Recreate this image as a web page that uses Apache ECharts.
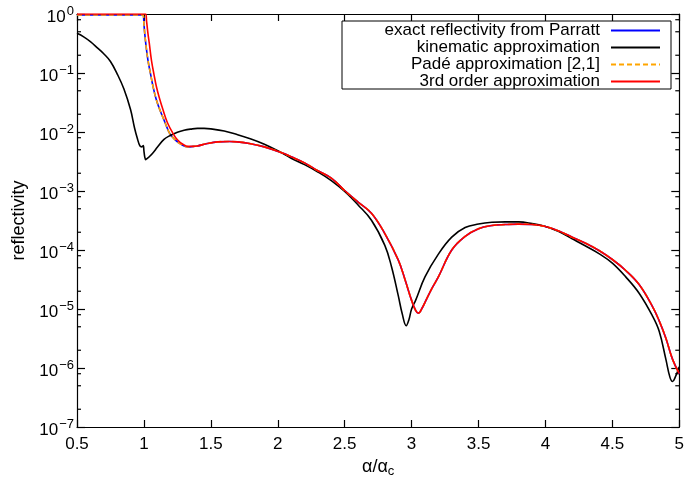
<!DOCTYPE html>
<html>
<head>
<meta charset="utf-8">
<script src="https://cdn.jsdelivr.net/npm/echarts@6/dist/echarts.min.js"></script>
<style>html,body{margin:0;padding:0;background:#fff;}#c{width:687px;height:486px;}</style>
</head>
<body>
<div id="c"></div>
<script>
// ---- data ----
var seriesNames = ['exact reflectivity from Parratt', 'kinematic approximation', 'Padé approximation [2,1]', '3rd order approximation'];
var xTicks = [0.5, 1, 1.5, 2, 2.5, 3, 3.5, 4, 4.5, 5];
var yTickExps = [-7, -6, -5, -4, -3, -2, -1, 0];
var minorFactors = [2, 5, 8];

var exactX = [0.5,0.6,0.7,0.8,0.9,0.993,1.0,1.006,1.015,1.03,1.05,1.068,1.09,1.118,1.15,1.192,1.23,1.266,1.3,1.33,1.37,1.4,1.465,1.55,1.64,1.7,1.787,1.9,2.035,2.1,2.2,2.3,2.4,2.5,2.6,2.7,2.8,2.9,2.95,3.0,3.03,3.05,3.08,3.1,3.15,3.2,3.3,3.4,3.5,3.6,3.7,3.8,3.9,4.0,4.1,4.2,4.3,4.4,4.5,4.6,4.7,4.8,4.85,4.9,4.95,5.0];
var exactY = [0.96,0.96,0.96,0.96,0.96,0.96,0.68,0.47,0.30,0.166,0.095,0.059,0.037,0.024,0.016,0.0095,0.0075,0.0064,0.0058,0.0056,0.0057,0.0058,0.0063,0.0068,0.0069,0.0068,0.0064,0.0056,0.0044,0.0038,0.0030,0.0022,0.00165,0.00102,0.00065,0.00042,0.00019,0.000068,0.000032,0.000014,0.0000095,0.0000085,0.0000105,0.000013,0.000022,0.000035,0.0001,0.00017,0.00023,0.00026,0.00027,0.000275,0.00027,0.00025,0.00021,0.000165,0.00013,0.000098,0.000069,0.000045,0.000026,0.000011,0.0000063,0.0000032,0.0000014,0.0000008];

var kinX = [0.5,0.55,0.6,0.65,0.7,0.75,0.8,0.85,0.9,0.93,0.95,0.97,0.985,0.995,1.0,1.006,1.013,1.02,1.04,1.07,1.1,1.15,1.2,1.25,1.3,1.35,1.4,1.45,1.5,1.6,1.7,1.8,1.9,2.0,2.1,2.2,2.3,2.4,2.5,2.6,2.7,2.8,2.85,2.9,2.93,2.96,2.98,3.0,3.03,3.1,3.2,3.3,3.4,3.5,3.6,3.7,3.8,3.9,4.0,4.1,4.2,4.3,4.4,4.5,4.6,4.7,4.8,4.85,4.9,4.93,4.95,4.97,5.0];
var kinY = [0.47,0.41,0.34,0.27,0.212,0.157,0.097,0.054,0.024,0.0117,0.0079,0.0058,0.0056,0.0059,0.0048,0.0038,0.0034,0.0035,0.0038,0.0045,0.0055,0.0075,0.0088,0.0099,0.0107,0.0112,0.0115,0.0115,0.0113,0.0104,0.0090,0.0076,0.0062,0.0048,0.0036,0.0028,0.0021,0.0015,0.00098,0.00058,0.00032,0.00012,0.000052,0.000017,0.0000083,0.0000052,0.0000066,0.00001,0.000014,0.000035,0.000085,0.000165,0.00024,0.000275,0.000295,0.0003,0.0003,0.00028,0.00025,0.000205,0.000155,0.000117,0.000087,0.00006,0.000035,0.0000185,0.0000076,0.0000042,0.0000014,0.0000007,0.00000059,0.0000007,0.00000105];

var padeX = [0.5,0.6,0.7,0.8,0.9,0.993,1.0,1.006,1.015,1.03,1.05,1.068,1.09,1.118,1.15,1.192,1.23,1.266,1.3,1.33,1.37,1.4,1.465,1.55,1.64,1.7,1.787,1.9,2.035,2.1,2.2,2.3,2.4,2.5,2.6,2.7,2.8,2.9,2.95,3.0,3.03,3.05,3.08,3.1,3.15,3.2,3.3,3.4,3.5,3.6,3.7,3.8,3.9,4.0,4.1,4.2,4.3,4.4,4.5,4.6,4.7,4.8,4.85,4.9,4.95,5.0];
var padeY = [0.96,0.96,0.96,0.96,0.96,0.96,0.68,0.47,0.30,0.166,0.095,0.059,0.037,0.024,0.016,0.0095,0.0075,0.0064,0.0058,0.0056,0.0057,0.0058,0.0063,0.0068,0.0069,0.0068,0.0064,0.0056,0.0044,0.0038,0.0030,0.0022,0.00165,0.00102,0.00065,0.00042,0.00019,0.000068,0.000032,0.000014,0.0000095,0.0000085,0.0000105,0.000013,0.000022,0.000035,0.0001,0.00017,0.00023,0.00026,0.00027,0.000275,0.00027,0.00025,0.00021,0.000165,0.00013,0.000098,0.000069,0.000045,0.000026,0.000011,0.0000063,0.0000032,0.0000014,0.0000008];

var thirdX = [0.5,0.6,0.7,0.8,0.9,1.0,1.013,1.02,1.03,1.04,1.056,1.075,1.093,1.115,1.142,1.175,1.217,1.25,1.291,1.33,1.37,1.4,1.465,1.55,1.64,1.7,1.787,1.9,2.035,2.1,2.2,2.3,2.4,2.5,2.6,2.7,2.8,2.9,2.95,3.0,3.03,3.05,3.08,3.1,3.15,3.2,3.3,3.4,3.5,3.6,3.7,3.8,3.9,4.0,4.1,4.2,4.3,4.4,4.5,4.6,4.7,4.8,4.85,4.9,4.95,5.0];
var thirdY = [1,1,1,1,1,1,1,0.75,0.47,0.32,0.166,0.095,0.059,0.038,0.024,0.0145,0.0095,0.0074,0.0062,0.0057,0.0057,0.0058,0.0063,0.0068,0.0069,0.0068,0.0064,0.0056,0.0044,0.0038,0.0030,0.0022,0.00165,0.00102,0.00065,0.00042,0.00019,0.000068,0.000032,0.000014,0.0000095,0.0000085,0.0000105,0.000013,0.000022,0.000035,0.0001,0.00017,0.00023,0.00026,0.00027,0.000275,0.00027,0.00025,0.00021,0.000165,0.00013,0.000098,0.000069,0.000045,0.000026,0.000011,0.0000063,0.0000032,0.0000014,0.0000008];

// ---- build ----
function pairs(xs, ys) { return xs.map(function (x, i) { return [x, ys[i]]; }); }
var minorVals = [];
yTickExps.forEach(function (e) {
  if (e < 0) minorFactors.forEach(function (f) { minorVals.push([xTicks[0], f * Math.pow(10, e)]); });
});

var FONT = '"Liberation Sans", Arial, Helvetica, sans-serif';
var xMin = xTicks[0], xMax = xTicks[xTicks.length - 1];
var yMin = Math.pow(10, yTickExps[0]), yMax = Math.pow(10, yTickExps[yTickExps.length - 1]);

function expLabel(v) {
  var e = Math.round(Math.log10(v));
  return '{b|10}{e|' + (e === 0 ? '0' : '\u2212' + (-e)) + '}';
}
var richY = {
  b: { fontSize: 17, fontFamily: FONT, color: '#000', padding: [6, 0, 0, 0] },
  e: { fontSize: 13, fontFamily: FONT, color: '#000', padding: [0, 0, 5, 1] }
};

var colors = ['#0000ff', '#000000', '#ffa500', '#ff0000'];
var lineW = 1.6;

var legends = seriesNames.map(function (n, i) {
  return {
    data: [n], orient: 'vertical', align: 'right', right: 26, top: 22 + i * 17,
    padding: 0, itemWidth: 49, itemHeight: 10, selectedMode: false,
    itemStyle: { color: 'rgba(0,0,0,0)', borderWidth: 0, borderColor: 'rgba(0,0,0,0)' },
    textStyle: { fontSize: 17, fontFamily: FONT, color: '#000', lineHeight: 17, padding: [0, 6, 0, 0] }
  };
});

var chart = echarts.init(document.getElementById('c'), null, { renderer: 'canvas' });
chart.setOption({
  animation: false,
  backgroundColor: '#fff',
  grid: { left: 77, right: 5, top: 14, bottom: 59, containLabel: false },
  legend: legends,
  graphic: [{ type: 'rect', shape: { x: 342, y: 21, width: 329, height: 68 }, style: { fill: null, stroke: '#000', lineWidth: 1 }, z: 100 }],
  xAxis: [{
    type: 'value', min: xMin, max: xMax, interval: 0.5, position: 'bottom',
    axisLine: { onZero: false, lineStyle: { color: '#000', width: 1.2 } },
    axisTick: { inside: true, length: 7, lineStyle: { color: '#000', width: 1.2 } },
    splitLine: { show: false },
    axisLabel: { fontSize: 17, fontFamily: FONT, color: '#000', margin: 9, formatter: function (v) { return String(v); } },
    name: '{a|\u03b1/\u03b1}{s|c}', nameLocation: 'middle', nameGap: 29,
    nameTextStyle: { rich: { a: { fontSize: 18, fontFamily: FONT, color: '#000' }, s: { fontSize: 13, fontFamily: FONT, color: '#000', padding: [9, 0, 0, 0] } } }
  }, {
    type: 'value', min: xMin, max: xMax, interval: 0.5, position: 'top',
    axisLine: { onZero: false, lineStyle: { color: '#000', width: 1.2 } },
    axisTick: { inside: true, length: 7, lineStyle: { color: '#000', width: 1.2 } },
    axisLabel: { show: false }, splitLine: { show: false }
  }],
  yAxis: [{
    type: 'log', logBase: 10, min: yMin, max: yMax, position: 'left',
    axisLine: { onZero: false, lineStyle: { color: '#000', width: 1.2 } },
    axisTick: { inside: true, length: 8, lineStyle: { color: '#000', width: 1.2 } },
    splitLine: { show: false }, minorTick: { show: false },
    axisLabel: { margin: 3, formatter: expLabel, rich: richY },
    name: 'reflectivity', nameLocation: 'middle', nameGap: 49,
    nameTextStyle: { fontSize: 18, fontFamily: FONT, color: '#000' }
  }, {
    type: 'log', logBase: 10, min: yMin, max: yMax, position: 'right',
    axisLine: { onZero: false, lineStyle: { color: '#000', width: 1.2 } },
    axisTick: { inside: true, length: 8, lineStyle: { color: '#000', width: 1.2 } },
    axisLabel: { show: false }, splitLine: { show: false }
  }],
  series: [
    { name: seriesNames[0], type: 'line', data: pairs(exactX, exactY), showSymbol: false, symbol: 'none', smooth: 0.4,
      lineStyle: { color: colors[0], width: lineW }, itemStyle: { color: colors[0] }, clip: true },
    { name: seriesNames[1], type: 'line', data: pairs(kinX, kinY), showSymbol: false, symbol: 'none', smooth: 0.4,
      lineStyle: { color: colors[1], width: lineW }, itemStyle: { color: colors[1] }, clip: true },
    { name: seriesNames[2], type: 'line', data: pairs(padeX, padeY), showSymbol: false, symbol: 'none', smooth: 0.4,
      lineStyle: { color: colors[2], width: lineW, type: [5, 3] }, itemStyle: { color: colors[2] }, clip: true },
    { name: seriesNames[3], type: 'line', data: pairs(thirdX, thirdY), showSymbol: false, symbol: 'none', smooth: 0.4,
      lineStyle: { color: colors[3], width: lineW }, itemStyle: { color: colors[3] }, clip: true },
    { name: 'minorTicks', type: 'custom', data: minorVals, clip: false, silent: true,
      encode: { x: 0, y: 1 },
      renderItem: function (params, api) {
        var v = api.value(1);
        var pl = api.coord([xMin, v]);
        var pr = api.coord([xMax, v]);
        var st = { stroke: '#000', lineWidth: 1.2 };
        return { type: 'group', children: [
          { type: 'line', shape: { x1: pl[0], y1: pl[1], x2: pl[0] + 4, y2: pl[1] }, style: st },
          { type: 'line', shape: { x1: pr[0] - 4, y1: pr[1], x2: pr[0], y2: pr[1] }, style: st }
        ] };
      }
    }
  ]
});
</script>
</body>
</html>
